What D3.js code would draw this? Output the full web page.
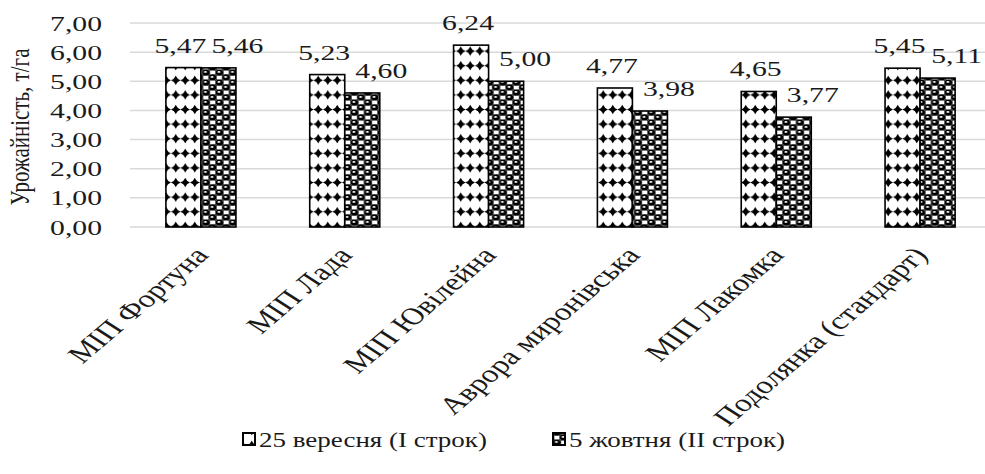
<!DOCTYPE html>
<html>
<head>
<meta charset="utf-8">
<script src="https://cdn.jsdelivr.net/npm/d3@7"></script>
<style>
  body { margin: 0; background: #fff; }
  text { font-family: "Liberation Serif", "Times New Roman", serif; fill: #1a1a1a; }
</style>
</head>
<body>
<script>
// data
var categories = ['МІП Фортуна', 'МІП Лада', 'МІП Ювілейна', 'Аврора миронівська', 'МІП Лакомка', 'Подолянка (стандарт)'];
var seriesNames = ['25 вересня (I строк)', '5 жовтня (II строк)'];
var sept25 = [5.47, 5.23, 6.24, 4.77, 4.65, 5.45];
var oct5 = [5.46, 4.60, 5.00, 3.98, 3.77, 5.11];
var yTicks = [0, 1, 2, 3, 4, 5, 6, 7];

var w = 985,
    h = 474;
var sx = 1.35; // the picture is stretched sideways
var fmt = function(v) { return v.toFixed(2).replace('.', ','); };

var svg = d3.select('body')
    .append('svg')
    .attr('width', w)
    .attr('height', h);

// patterns
var defs = svg.append('defs');
var star = function(cx, cy, rx, ry) {
    var k = 0.25;
    return 'M' + (cx) + ',' + (cy - ry) +
        'Q' + (cx + rx * k) + ',' + (cy - ry * k) + ' ' + (cx + rx) + ',' + cy +
        'Q' + (cx + rx * k) + ',' + (cy + ry * k) + ' ' + cx + ',' + (cy + ry) +
        'Q' + (cx - rx * k) + ',' + (cy + ry * k) + ' ' + (cx - rx) + ',' + cy +
        'Q' + (cx - rx * k) + ',' + (cy - ry * k) + ' ' + cx + ',' + (cy - ry) + 'Z';
};
var p1 = defs.append('pattern')
    .attr('id', 'pat1')
    .attr('patternUnits', 'userSpaceOnUse')
    .attr('width', 19)
    .attr('height', 14.6);
p1.append('rect').attr('width', 19).attr('height', 14.6).attr('fill', '#fff');
[4.75, 14.25].forEach(function(cx) {
    p1.append('path').attr('d', star(cx, 7.3, 5, 4.6)).attr('fill', '#000');
    p1.append('circle').attr('cx', cx).attr('cy', 7.3).attr('r', 2.3).attr('fill', '#000');
});

var p2 = defs.append('pattern')
    .attr('id', 'pat2')
    .attr('patternUnits', 'userSpaceOnUse')
    .attr('width', 13.5)
    .attr('height', 10);
p2.append('rect').attr('width', 13.5).attr('height', 10).attr('fill', '#fff');
[[10.1, 2.5], [3.4, 7.5]].forEach(function(c) {
    p2.append('rect').attr('x', c[0] - 3.2).attr('y', c[1] - 2.4).attr('width', 6.4).attr('height', 4.8)
        .attr('fill', 'none').attr('stroke', '#222').attr('stroke-width', 1);
});
[[3.4, 2.5], [10.1, 7.5]].forEach(function(c) {
    p2.append('ellipse').attr('cx', c[0]).attr('cy', c[1]).attr('rx', 3.9).attr('ry', 2.9).attr('fill', '#000');
    p2.append('ellipse').attr('cx', c[0] - 0.5).attr('cy', c[1] - 0.6).attr('rx', 1.5).attr('ry', 0.9).attr('fill', '#fff');
});

// scales
var x = d3.scaleBand()
    .domain(categories)
    .range([129, 992])
    .paddingInner(0.513)
    .paddingOuter(0.2565);
var xs = d3.scaleBand()
    .domain([0, 1])
    .range([0, x.bandwidth()]);
var y = d3.scaleLinear()
    .domain([0, 7])
    .range([227, 23]);

// stretched text helper
var stext = function(g, tx, ty, str, anchor, size) {
    return g.append('text')
        .attr('transform', 'translate(' + tx + ',' + ty + ') scale(' + sx + ',1)')
        .attr('text-anchor', anchor)
        .style('font-size', size + 'px')
        .text(str);
};

// grid
svg.append('g')
    .selectAll('line')
    .data(yTicks)
    .join('line')
    .attr('x1', 130)
    .attr('x2', w)
    .attr('y1', function(d) { return y(d); })
    .attr('y2', function(d) { return y(d); })
    .attr('stroke', '#d9d9d9')
    .attr('stroke-width', 1.5);

// y tick labels
var yl = svg.append('g');
yTicks.forEach(function(d) {
    stext(yl, 102, y(d) + 7.5, fmt(d), 'end', 22);
});

// y title
svg.append('text')
    .attr('transform', 'translate(29,127) scale(' + sx + ',1) rotate(-90)')
    .attr('text-anchor', 'middle')
    .style('font-size', '21px')
    .text('Урожайність, т/га');

// bars
var series = [sept25, oct5];
series.forEach(function(vals, si) {
    svg.append('g')
        .selectAll('rect')
        .data(vals)
        .join('rect')
        .attr('x', function(d, i) { return x(categories[i]) + xs(si); })
        .attr('y', function(d) { return y(d); })
        .attr('width', xs.bandwidth())
        .attr('height', function(d) { return y(0) - y(d); })
        .attr('fill', 'url(#pat' + (si + 1) + ')')
        .attr('stroke', '#000')
        .attr('stroke-width', 1.6);
});

// data labels
var lg = svg.append('g');
series.forEach(function(vals, si) {
    vals.forEach(function(d, i) {
        var cx = x(categories[i]) + xs(si) + xs.bandwidth() / 2 + (si === 0 ? -3 : 19);
        stext(lg, cx, y(d) - 15, fmt(d), 'middle', 22);
    });
});

// category labels
var cg = svg.append('g');
categories.forEach(function(c) {
    cg.append('text')
        .attr('transform', 'translate(' + (x(c) + x.bandwidth() / 2 + 9) + ',256) scale(' + sx + ',1) rotate(-49)')
        .attr('text-anchor', 'end')
        .style('font-size', '24.5px')
        .text(c);
});

// legend
var legX = [243, 553];
var leg = svg.append('g');
seriesNames.forEach(function(n, i) {
    leg.append('rect')
        .attr('x', legX[i])
        .attr('y', 433)
        .attr('width', 12)
        .attr('height', 12)
        .attr('fill', 'url(#pat' + (i + 1) + ')')
        .attr('stroke', '#000')
        .attr('stroke-width', 2);
    stext(leg, legX[i] + 16, 447, n, 'start', 20);
});
</script>
</body>
</html>
